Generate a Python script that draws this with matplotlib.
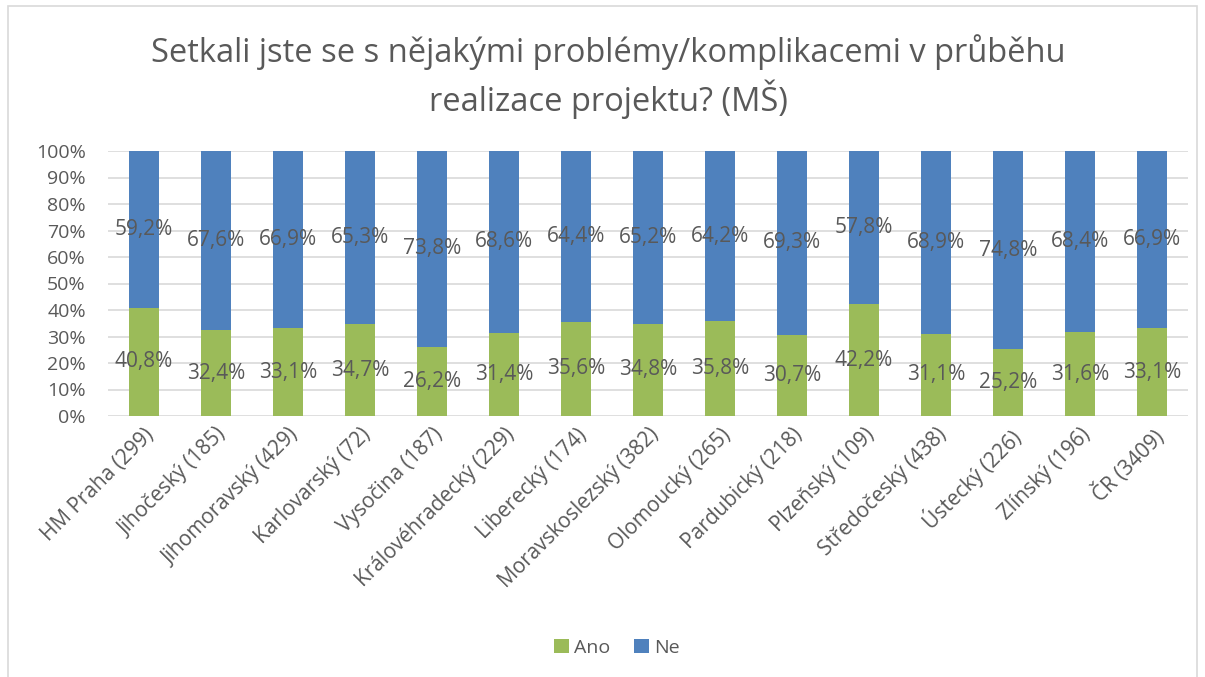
import matplotlib.pyplot as plt
from matplotlib.patches import Rectangle
from matplotlib.ticker import FuncFormatter

# data
kraje = ['HM Praha (299)', 'Jihočeský (185)', 'Jihomoravský (429)', 'Karlovarský (72)',
         'Vysočina (187)', 'Královéhradecký (229)', 'Liberecký (174)', 'Moravskoslezský (382)',
         'Olomoucký (265)', 'Pardubický (218)', 'Plzeňský (109)', 'Středočeský (438)',
         'Ústecký (226)', 'Zlínský (196)', 'ČR (3409)']
ano = [40.8, 32.4, 33.1, 34.7, 26.2, 31.4, 35.6, 34.8, 35.8, 30.7, 42.2, 31.1, 25.2, 31.6, 33.1]
ne = [59.2, 67.6, 66.9, 65.3, 73.8, 68.6, 64.4, 65.2, 64.2, 69.3, 57.8, 68.9, 74.8, 68.4, 66.9]

plt.rcParams['font.family'] = ['Open Sans', 'DejaVu Sans']
txt = '#595959'
green = '#9BBB59'
blue = '#4F81BD'

fig = plt.figure(figsize=(12.05, 6.77), dpi=100)
# chart frame
fig.patches.append(Rectangle((8/1205, -0.01), 1189/1205, 1 - 6/677 + 0.01, transform=fig.transFigure,
                             fill=False, edgecolor='#D9D9D9', lw=1.2))

ax = fig.add_axes([108/1205, 1 - 416/677, 1080/1205, 265/677])
x = list(range(len(kraje)))
w = 0.41
ax.bar(x, ano, w, color=green, label='Ano', zorder=3)
ax.bar(x, ne, w, bottom=ano, color=blue, label='Ne', zorder=3)

for i in x:
    ax.text(i, ano[i] / 2, ('%.1f%%' % ano[i]).replace('.', ','), ha='center', va='center',
            fontsize=15, color=txt, zorder=4)
    ax.text(i, ano[i] + ne[i] / 2, ('%.1f%%' % ne[i]).replace('.', ','), ha='center', va='center',
            fontsize=15, color=txt, zorder=4)

ax.set_xlim(-0.5, len(kraje) - 0.5)
ax.set_ylim(0, 100)
ax.set_yticks(range(0, 101, 10))
ax.yaxis.set_major_formatter(FuncFormatter(lambda v, p: '%d%%' % v))
ax.grid(axis='y', color='#D9D9D9', lw=1.2, zorder=0)
for s in ax.spines.values():
    s.set_visible(False)
ax.tick_params(length=0, colors=txt)
ax.tick_params(axis='y', labelsize=14, pad=16)
ax.tick_params(axis='x', labelsize=15, pad=6)
ax.set_xticks(x)
ax.set_xticklabels(kraje, rotation=45, ha='right', rotation_mode='anchor')

fig.text(608/1205, 1 - 77/677, 'Setkali jste se s nějakými problémy/komplikacemi v průběhu\nrealizace projektu? (MŠ)',
         ha='center', va='center', fontsize=23.5, color=txt, linespacing=1.3)

fig.legend(loc='center', bbox_to_anchor=(617/1205, 1 - 648/677), ncol=2, frameon=False,
           fontsize=14, labelcolor=txt, handlelength=0.75, handleheight=0.75, handletextpad=0.3,
           columnspacing=1.2)

fig.savefig('out.png', dpi=100)
